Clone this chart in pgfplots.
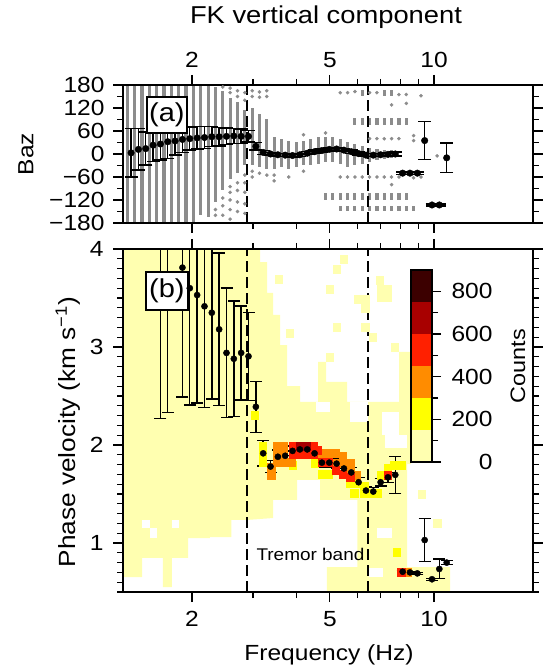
\documentclass[border=0pt]{standalone}
\usepackage{fontspec}
\setmainfont{Liberation Sans}[FakeStretch=1.12]
\usepackage{pgfplots}
\pgfplotsset{compat=1.18}
\definecolor{lyel}{HTML}{FFFFB0}
\definecolor{cyel}{HTML}{FFFF00}
\definecolor{corg}{HTML}{FF8C00}
\definecolor{cred}{HTML}{FF2000}
\definecolor{cdred}{HTML}{A80000}
\definecolor{cbrn}{HTML}{3C0000}
\definecolor{gdot}{HTML}{8C8C8C}
\begin{document}
\begin{tikzpicture}
\useasboundingbox (0,0) rectangle (544bp,671bp);
% ---------------- panel (a)
\begin{axis}[scale only axis, width=410bp, height=138bp, anchor=south west, at={(123bp,448bp)},
  xmode=log, xmin=1.2642, xmax=19.3,
  xtick={2,5,10}, xticklabels={2,5,10}, minor xtick={3,4,6,7,8,9},
  tick align=outside, major tick length=10bp, minor tick length=6bp,
  major tick style={black, line width=1.3bp}, minor tick style={black, line width=1.3bp},
  axis line style={line width=2.4bp},
  tick label style={font=\fontsize{22}{24}\selectfont},
  xticklabel style={yshift=4bp},
  yticklabel style={xshift=-5bp},
  axis on top,
  ymin=-180, ymax=180, ytick={-180,-120,-60,0,60,120,180},
  yticklabels={−180,−120,−60,0,60,120,180},
  minor ytick={-150,-90,-30,30,90,150},
  xticklabel pos=top,
  ylabel={Baz},
  every axis y label/.style={at={(axis description cs:-0.2366,0.5)}, rotate=90, anchor=center, font=\fontsize{22}{26}\selectfont},
  title={FK vertical component},
  every axis title/.style={at={(axis description cs:0.4951,1.4928)}, anchor=center, font=\fontsize{24.5}{28}\selectfont},
]
% gray stripes: f centre halfwidth
\addplot[draw=none, mark=none, forget plot, error bars/.cd, y dir=both, y explicit, error mark=none,
  error bar style={draw=gdot, line width=3.2bp}] table[x=f, y=c, y error=h] {
f c h
1.3015 0 180
1.3666 0 180
1.4349 0 180
1.5066 0 180
1.5820 0 180
1.6611 0 180
1.7441 0 180
1.8313 0 180
1.9230 0 180
2.0190 0 180
2.1200 10 170
2.2260 7.5 172.5
2.3374 25 150
2.4541 35 130
2.5768 40 105
2.7057 42.5 92.5
2.8410 42.5 72.5
2.9830 45 75
3.1322 35 70
3.2889 25 65
3.4533 2.5 42.5
3.6260 2.5 37.5
3.8073 -2.5 37.5
3.9976 -1.5 33.5
4.1975 2.5 32.5
4.4074 5 35
4.6278 10 35
4.8591 12.5 32.5
5.1020 12.5 32.5
5.3572 7.5 32.5
5.6250 -2.5 32.5
5.9063 -2.5 27.5
6.2016 -2.5 22.5
6.5117 -2.5 17.5
6.8372 -1.5 13.5
7.1791 -1 11
7.5380 0 10
5.9063 85 10
6.2016 85 10
6.5117 85 10
6.8372 85 10
7.1791 85 10
7.5380 85 10
7.9150 85 10
8.3107 85 10
4.8591 -111.5 8.5
5.1020 -111.5 8.5
5.3572 -111.5 8.5
5.6250 -111.5 8.5
5.9063 -111.5 8.5
6.2016 -111.5 8.5
6.5117 -111.5 8.5
6.8372 -111.5 8.5
7.1791 -111.5 8.5
7.5380 -111.5 8.5
7.9150 -111.5 8.5
8.3107 -111.5 8.5
5.3572 -142.5 7.5
5.6250 -142.5 7.5
5.9063 -142.5 7.5
6.2016 -142.5 7.5
6.5117 -142.5 7.5
6.8372 -142.5 7.5
7.1791 -142.5 7.5
7.5380 -142.5 7.5
7.9150 -142.5 7.5
8.3107 -142.5 7.5
8.7262 -142.5 7.5
6.2016 159 9
7.1791 159 9
7.5380 159 9
};
% gray single dots
\addplot[only marks, mark=*, mark size=1.6bp, gdot, forget plot] table[x=f, y=b] {
f b
5.3572 160
5.6250 160
5.9063 163
6.5117 160
6.8372 160
7.9150 155
8.3107 155
9.1626 152
7.5380 128
8.3107 132
6.5117 40
6.8372 40
7.1791 40
7.5380 40
7.9150 40
8.7262 35
8.7262 48
5.3572 -60
5.6250 -60
5.9063 -60
6.2016 -60
6.5117 -60
6.8372 -60
7.1791 -60
7.5380 -60
7.9150 -60
7.5380 -80
8.7262 -62
9.1626 -60
10.2 -5
2.3374 -145
2.3374 -160
2.4541 -115
2.4541 -135
2.4541 -160
2.4541 175
2.5768 -85
2.5768 -100
2.5768 -120
2.5768 -145
2.5768 -170
2.5768 160
2.5768 172
2.7057 -75
2.7057 -95
2.7057 -125
2.7057 -150
2.7057 150
2.7057 165
2.8410 -55
2.8410 -75
2.8410 -100
2.8410 -130
2.8410 -155
2.8410 140
2.8410 160
2.9830 -45
2.9830 -60
2.9830 150
2.9830 165
3.1322 -50
3.1322 148
3.1322 162
3.2889 -55
3.2889 150
3.2889 165
3.4533 -55
3.4533 -70
3.8073 -60
4.1975 -45
4.1975 50
4.8591 55
};
% tremor band limits
\addplot[black, line width=1.6bp, dash pattern=on 11bp off 5bp, forget plot] coordinates {(2.88,-180) (2.88,180)};
\addplot[black, line width=1.6bp, dash pattern=on 11bp off 5bp, forget plot] coordinates {(6.45,-180) (6.45,180)};
% back azimuth: f mean error
\addplot[only marks, mark=*, mark size=3.3bp, black, error bars/.cd, y dir=both, y explicit,
  error bar style={line width=1.4bp, black}, error mark options={rotate=90, mark size=6.5bp, line width=1.4bp, black}]
  table[x=f, y=b, y error=e] {
f b e
1.3340 3 63
1.4007 12 54
1.4707 14 43
1.5443 23 43
1.6215 26 42
1.7026 32 44
1.7877 34 37
1.8771 38 34
1.9710 40 30
2.0695 42 29
2.1730 43 28
2.2816 45 26
2.3957 45 24
2.5155 46 22
2.6412 47 20
2.7733 46 19
2.9120 46 15
3.0576 20 10
3.2104 4 5
3.3711 0 4
3.5395 -2 4
3.7165 -3 4
3.9024 -4 4
4.0974 -2 4
4.3023 2 4
4.5174 6 4
4.7433 9 4
4.9805 12 4
5.2294 13 4
5.4909 10 4
5.7655 6 4
6.0537 1 4
6.3564 -3 4
6.6742 -3 4
7.0080 -2 4
7.3583 -1 4
7.7263 0 5
8.1126 -50 3
8.5182 -50 3
8.9441 -50 3
9.3913 35 50
9.8609 -133 3
10.3539 -133 3
10.8716 -10 39
};
\node[draw=black, fill=white, line width=1.4bp, minimum width=40bp, minimum height=36bp, inner sep=0pt,
  font=\fontsize{26}{28}\selectfont] at (rel axis cs:0.107,0.7826) {(a)};
\end{axis}
% ---------------- panel (b)
\begin{axis}[scale only axis, width=410bp, height=343bp, anchor=south west, at={(123bp,79bp)},
  xmode=log, xmin=1.2642, xmax=19.3,
  xtick={2,5,10}, xticklabels={2,5,10}, minor xtick={3,4,6,7,8,9},
  tick align=outside, major tick length=10bp, minor tick length=6bp,
  major tick style={black, line width=1.3bp}, minor tick style={black, line width=1.3bp},
  axis line style={line width=2.4bp},
  tick label style={font=\fontsize{22}{24}\selectfont},
  xticklabel style={yshift=-6bp},
  yticklabel style={xshift=-6bp},
  axis on top,
  ymin=0.5, ymax=4, ytick={1,2,3,4}, yticklabels={1,2,3,4},
  minor ytick={0.5,0.6,...,4.01},
  xlabel={Frequency (Hz)},
  ylabel={Phase velocity (km s\textsuperscript{−1})},
  every axis x label/.style={at={(axis description cs:0.5024,-0.1837)}, anchor=center, font=\fontsize{22}{26}\selectfont},
  every axis y label/.style={at={(axis description cs:-0.134,0.466)}, rotate=90, anchor=center, font=\fontsize{23.5}{26}\selectfont},
]
% histogram: cells with 1-150 counts (outline)
\addplot[fill=lyel, draw=none, forget plot] coordinates {
(1.2642,4) (3.1442,4) (3.1442,3.867) (3.2940,3.867) (3.2940,3.551) (3.4278,3.551)
(3.4278,3.327) (3.5914,3.327) (3.5914,3.020) (3.7624,3.020) (3.7624,2.602) (4.1016,2.602)
(4.1016,2.439) (4.6218,2.439) (4.6218,2.847) (4.8744,2.847) (4.8744,2.643) (5.6060,2.643)
(5.6060,2.439) (7.9208,2.439) (7.9208,2.949) (8.5788,2.949) (8.5788,1.806) (8.3536,1.806)
(8.3536,0.755) (11.1206,0.755) (11.1206,0.5) (4.9,0.5) (4.9,0.755) (6.0,0.755)
(6.0,1.439) (4.6836,1.439) (4.6836,1.643) (4.0206,1.643) (4.0206,1.439) (3.4278,1.439)
(3.4278,1.255) (2.8822,1.235) (2.6,1.235) (2.6,1.061) (2.2541,1.061) (2.2541,1.051)
(1.9500,1.051) (1.9500,0.847) (1.7510,0.847) (1.7510,0.551) (1.6490,0.551) (1.6490,0.847)
(1.4348,0.847) (1.4348,0.653) (1.2642,0.653)
} -- cycle;
% empty cells inside
\addplot[fill=white, draw=none, forget plot] coordinates {(1.4348,1.235)(1.5100,1.235)(1.5100,1.153)(1.4348,1.153)} -- cycle;
\addplot[fill=white, draw=none, forget plot] coordinates {(1.5100,1.153)(1.5848,1.153)(1.5848,1.051)(1.5100,1.051)} -- cycle;
\addplot[fill=white, draw=none, forget plot] coordinates {(1.7510,1.235)(1.8344,1.235)(1.8344,1.153)(1.7510,1.153)} -- cycle;
\addplot[fill=white, draw=none, forget plot] coordinates {(4.55,2.439)(5.0,2.439)(5.0,2.337)(4.55,2.337)} -- cycle;
\addplot[fill=white, draw=none, forget plot] coordinates {(5.70,2.439)(6.44,2.439)(6.44,2.235)(5.70,2.235)} -- cycle;
\addplot[fill=white, draw=none, forget plot] coordinates {(7.05,2.337)(7.90,2.337)(7.90,2.102)(7.05,2.102)} -- cycle;
\addplot[fill=white, draw=none, forget plot] coordinates {(7.20,2.102)(8.36,2.102)(8.36,1.969)(7.20,1.969)} -- cycle;
\addplot[fill=white, draw=none, forget plot] coordinates {(6.8412,1.153)(7.5590,1.153)(7.5590,1.051)(6.8412,1.051)} -- cycle;
\addplot[fill=white, draw=none, forget plot] coordinates {(6.5,0.745)(7.1198,0.745)(7.1198,0.653)(6.5,0.653)} -- cycle;
% isolated low-count cells
\addplot[lyel, only marks, mark=square*, mark size=3.65bp, mark options={yscale=1.1}, forget plot] table {
5.4766 3.898
5.2276 3.796
4.9894 3.592
6.0298 3.490
6.3186 3.490
6.3186 3.398
6.9806 3.684
7.0272 3.592
7.3606 3.592
7.0272 3.510
7.3606 3.510
5.2276 3.204
6.3186 3.204
6.6420 3.102
7.7132 3.000
4.9894 2.898
3.5558 3.694
3.8250 3.143
3.2071 1.350
9.2 1.5
10.2 1.2
};
% 150-300
\addplot[cyel, only marks, mark=square*, mark size=3.65bp, mark options={yscale=1.1}, forget plot] table {
3.0408 2.306
3.2071 1.990
3.2071 1.898
3.2071 1.827
3.9150 1.796
4.5236 1.816
4.7468 1.704
4.9728 1.704
5.7190 1.612
5.8732 1.510
6.2768 1.510
6.5756 1.510
6.8870 1.510
7.0272 1.694
7.6628 1.796
8.0270 1.796
7.7914 0.903
5.9900 1.612
6.2768 1.582
7.3606 1.765
};
% 300-450
\addplot[corg, only marks, mark=square*, mark size=3.65bp, mark options={yscale=1.1}, forget plot] table {
3.3826 1.776
3.3826 1.694
3.5204 1.990
3.6880 1.990
3.5204 1.908
3.6880 1.908
3.5204 1.827
3.6880 1.827
4.7468 1.918
4.9728 1.918
5.2102 1.918
5.2102 1.816
5.4584 1.816
5.7190 1.745
8.4092 0.704
5.4584 1.888
5.7190 1.816
5.9900 1.694
3.8892 1.827
};
% 450-600
\addplot[cred, only marks, mark=square*, mark size=3.65bp, mark options={yscale=1.1}, forget plot] table {
3.9150 1.990
3.9150 1.908
4.1016 1.908
4.2962 1.908
4.5004 1.990
4.5004 1.908
4.7468 1.827
4.9728 1.827
5.4584 1.704
7.3606 1.694
8.0270 0.704
5.2102 1.745
5.7190 1.674
4.6218 1.950
};
% 600-750
\addplot[cdred, only marks, mark=square*, mark size=3.65bp, mark options={yscale=1.1}, forget plot] table {
4.1016 1.990
4.2962 1.990
};
\addplot[black, line width=1.6bp, dash pattern=on 11bp off 5bp, forget plot] coordinates {(2.88,0.5) (2.88,4)};
\addplot[black, line width=1.6bp, dash pattern=on 11bp off 5bp, forget plot] coordinates {(6.45,0.5) (6.45,4)};
% phase velocity: f mean error
\addplot[only marks, mark=*, mark size=3.1bp, black, error bars/.cd, y dir=both, y explicit,
  error bar style={line width=1.4bp, black}, error mark options={rotate=90, mark size=6bp, line width=1.4bp, black}]
  table[x=f, y=v, y error=e] {
f v e
1.6215 4.60 2.33
1.7026 4.50 2.17
1.8771 3.81 1.32
1.9710 3.60 1.19
2.0695 3.53 1.10
2.1730 3.415 1.03
2.2816 3.35 0.88
2.3957 3.18 0.78
2.5155 2.94 0.66
2.6412 2.88 0.59
2.7733 2.94 0.48
2.9120 2.905 0.45
3.0576 2.39 0.26
3.2104 1.915 0.13
3.3711 1.78 0.06
3.5395 1.88 0.07
3.7165 1.89 0.05
3.9024 1.94 0.05
4.0974 1.955 0.04
4.3023 1.955 0.04
4.5174 1.915 0.05
4.7433 1.82 0.05
4.9805 1.82 0.05
5.2294 1.81 0.05
5.4909 1.76 0.05
5.7655 1.72 0.05
6.0537 1.62 0.05
6.3564 1.535 0.04
6.6742 1.525 0.04
7.0080 1.62 0.04
7.3583 1.67 0.05
7.7263 1.695 0.19
8.1126 0.707 0.01
8.5182 0.70 0.01
8.9441 0.69 0.01
9.3913 1.03 0.22
9.8609 0.63 0.01
10.3539 0.735 0.10
10.8716 0.80 0.02
};
\node[anchor=west, font=\fontsize{17}{19}\selectfont] at (axis cs:3.0,0.88) {Tremor band};
\node[draw=black, fill=white, line width=1.4bp, minimum width=42bp, minimum height=38bp, inner sep=0pt,
  font=\fontsize{26}{28}\selectfont] at (rel axis cs:0.107,0.8776) {(b)};
\end{axis}
% ---------------- colour scale
\begin{axis}[at={(411bp,209bp)}, anchor=south west, scale only axis, width=21bp, height=192bp,
  xmin=0, xmax=1, ymin=0, ymax=900, xtick=\empty,
  ytick={0,200,400,600,800}, yticklabels={0,200,400,600,800}, minor ytick={100,300,500,700},
  ytick pos=right, yticklabel pos=right, tick align=outside,
  major tick length=9bp, minor tick length=6bp,
  major tick style={black, line width=1.3bp}, minor tick style={black, line width=1.3bp},
  axis line style={line width=2.4bp},
  tick label style={font=\fontsize{22}{24}\selectfont},
  yticklabel style={anchor=east, xshift=55bp},
  ylabel={Counts},
  every axis y label/.style={at={(axis description cs:5.095,0.5)}, rotate=90, anchor=center, font=\fontsize{21}{26}\selectfont},
  axis on top]
\addplot[fill=lyel, draw=none] coordinates {(0,0)(1,0)(1,150)(0,150)} -- cycle;
\addplot[fill=cyel, draw=none] coordinates {(0,150)(1,150)(1,300)(0,300)} -- cycle;
\addplot[fill=corg, draw=none] coordinates {(0,300)(1,300)(1,450)(0,450)} -- cycle;
\addplot[fill=cred, draw=none] coordinates {(0,450)(1,450)(1,600)(0,600)} -- cycle;
\addplot[fill=cdred, draw=none] coordinates {(0,600)(1,600)(1,750)(0,750)} -- cycle;
\addplot[fill=cbrn, draw=none] coordinates {(0,750)(1,750)(1,900)(0,900)} -- cycle;
\end{axis}
\end{tikzpicture}
\end{document}
